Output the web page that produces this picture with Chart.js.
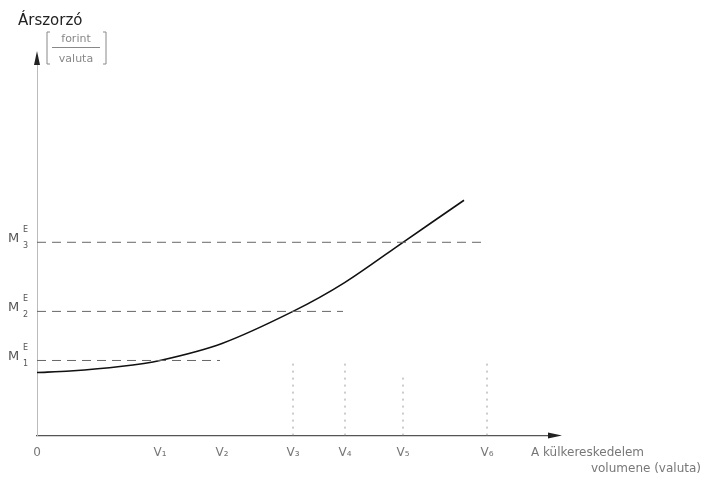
<!DOCTYPE html>
<html>
<head>
<meta charset="utf-8">
<script src="https://cdn.jsdelivr.net/npm/chart.js@4.4.0/dist/chart.umd.min.js"></script>
<style>
  html, body { margin: 0; padding: 0; background: #fff; }
  #wrap { width: 703px; height: 478px; }
</style>
</head>
<body>
<div id="wrap"><canvas id="chart"></canvas></div>
<script>
// volume positions on the x axis (arbitrary units)
var xTicks = [0, 12.3, 18.5, 25.6, 30.8, 36.6, 45.0]
var xLabels = ['0', 'V₁', 'V₂', 'V₃', 'V₄', 'V₅', 'V₆']

// the price-multiplier curve
var curveX = [0, 3.3, 8.3, 12.3, 18.5, 25.6, 30.8, 36.6, 42.7]
var curveY = [6.3, 6.45, 6.9, 7.5, 9.2, 12.4, 15.3, 19.3, 23.5]

// horizontal multiplier levels M1..M3 and where each line stops
var mLevels = [7.5, 12.4, 19.3]
var mSubs = ['1', '2', '3']
var mLineEnds = [18.3, 30.6, 44.6]

// faint drop lines from the axis
var dropX = [25.6, 30.8, 36.6, 45.0]
var dropTop = [7.2, 7.5, 6.2, 7.2]

var xMax = 51.1
var yMax = 37

var datasets = []

mLevels.forEach(function (m, i) {
  datasets.push({
    data: [{ x: 0, y: m }, { x: mLineEnds[i], y: m }],
    borderColor: '#666',
    borderWidth: 1,
    borderDash: [9, 6],
    pointRadius: 0
  })
})

dropX.forEach(function (x, i) {
  datasets.push({
    data: [{ x: x, y: 0 }, { x: x, y: dropTop[i] }],
    borderColor: '#999',
    borderWidth: 1,
    borderDash: [2, 5],
    pointRadius: 0
  })
})

datasets.push({
  data: curveX.map(function (x, i) { return { x: x, y: curveY[i] } }),
  borderColor: '#111',
  borderWidth: 1.6,
  tension: 0.3,
  pointRadius: 0
})

var decor = {
  id: 'decor',
  afterDraw: function (chart) {
    var ctx = chart.ctx
    var a = chart.chartArea
    var ys = chart.scales.y
    ctx.save()

    // axis arrows
    ctx.fillStyle = '#222'
    ctx.beginPath()
    ctx.moveTo(a.left, a.top - 14)
    ctx.lineTo(a.left - 3, a.top)
    ctx.lineTo(a.left + 3, a.top)
    ctx.closePath()
    ctx.fill()
    ctx.beginPath()
    ctx.moveTo(a.right + 14, a.bottom)
    ctx.lineTo(a.right, a.bottom - 3)
    ctx.lineTo(a.right, a.bottom + 3)
    ctx.closePath()
    ctx.fill()

    // M labels with E above and index below
    mLevels.forEach(function (m, i) {
      var py = ys.getPixelForValue(m)
      ctx.fillStyle = '#555'
      ctx.textBaseline = 'alphabetic'
      ctx.textAlign = 'left'
      ctx.font = '13px "DejaVu Sans"'
      ctx.fillText('M', 8, py)
      ctx.font = '8px "DejaVu Sans"'
      ctx.fillText('E', 23, py - 10)
      ctx.fillText(mSubs[i], 23, py + 6)
    })

    // y axis title and unit
    ctx.fillStyle = '#222'
    ctx.font = '15px "DejaVu Sans"'
    ctx.fillText('Árszorzó', 18, 25)
    ctx.fillStyle = '#888'
    ctx.font = '11px "DejaVu Sans"'
    ctx.textAlign = 'center'
    ctx.fillText('forint', 76, 42)
    ctx.fillText('valuta', 76, 62)
    ctx.strokeStyle = '#888'
    ctx.lineWidth = 1
    ctx.beginPath()
    ctx.moveTo(52, 47.5); ctx.lineTo(100, 47.5)
    ctx.moveTo(50, 32); ctx.lineTo(47, 32); ctx.lineTo(47, 64); ctx.lineTo(50, 64)
    ctx.moveTo(103, 32); ctx.lineTo(106, 32); ctx.lineTo(106, 64); ctx.lineTo(103, 64)
    ctx.stroke()

    // x axis title
    ctx.fillStyle = '#777'
    ctx.font = '12px "DejaVu Sans"'
    ctx.textAlign = 'left'
    ctx.fillText('A külkereskedelem', 531, 456)
    ctx.textAlign = 'right'
    ctx.fillText('volumene (valuta)', 701, 472)
    ctx.restore()
  }
}

new Chart(document.getElementById('chart'), {
  type: 'line',
  data: { datasets: datasets },
  options: {
    responsive: true,
    maintainAspectRatio: false,
    animation: false,
    layout: { padding: { left: 37, right: 155, top: 65, bottom: 8 } },
    plugins: { legend: { display: false }, tooltip: { enabled: false } },
    scales: {
      x: {
        type: 'linear',
        min: 0,
        max: xMax,
        afterBuildTicks: function (scale) {
          scale.ticks = xTicks.map(function (v) { return { value: v } })
        },
        grid: { display: false, drawTicks: false },
        border: { display: true, color: '#555', width: 1.2 },
        ticks: {
          autoSkip: false,
          maxRotation: 0,
          padding: 10,
          color: '#777',
          font: { family: 'DejaVu Sans', size: 12 },
          callback: function (v, i) { return xLabels[i] }
        }
      },
      y: {
        min: 0,
        max: yMax,
        grid: { display: false, drawTicks: false },
        border: { display: true, color: '#bbb', width: 1, dash: [2, 4] },
        ticks: { display: false }
      }
    }
  },
  plugins: [decor]
})
</script>
</body>
</html>
